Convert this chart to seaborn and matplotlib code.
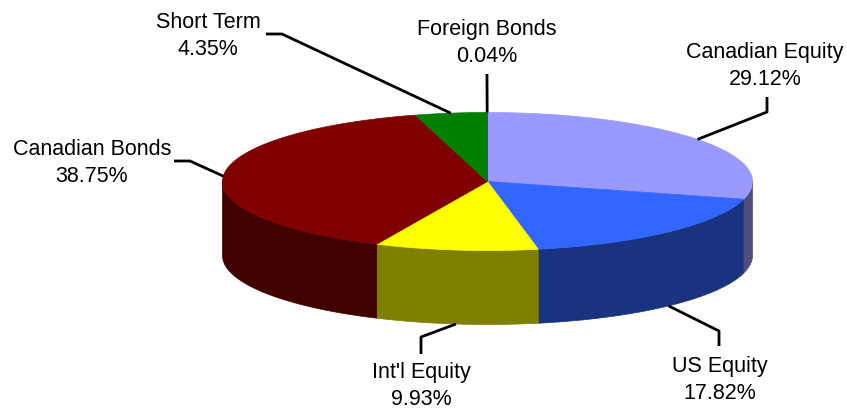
import numpy as np
import seaborn as sns
from matplotlib import pyplot as plt
from matplotlib.patches import Polygon

# data
categories = ['Canadian Equity', 'US Equity', "Int'l Equity", 'Canadian Bonds', 'Short Term', 'Foreign Bonds']
shares = [29.12, 17.82, 9.93, 38.75, 4.35, 0.04]
top_colors = ['#9999FF', '#3366FF', '#FFFF00', '#800000', '#008000', '#008000']
side_colors = ['#4D4D80', '#1A3380', '#808000', '#400000', '#004000', '#004000']

# label placement (text centre, elbow of leader line)
label_pos = [(765, 66), (720, 380), (421, 386), (92, 163), (208, 36), (487, 43)]
elbows = [(767, 113), (719, 332), (421, 338), (190, 162), (282, 35), (487, 80)]
line_ends = [(767, 98), (719, 347), (421, 355), (174, 162), (266, 35), (487, 75)]

sns.set_theme(style='white')
plt.rcParams['font.family'] = ['Liberation Sans', 'DejaVu Sans']

# pie geometry in pixel-like units
cx, cy = 487.5, 182.5
a, b = 265, 69
depth = 74


def rim(theta, drop=0):
    # theta in degrees, clockwise from the top
    t = np.radians(theta)
    return cx + a * np.sin(t), cy - b * np.cos(t) + drop


fig = plt.figure(figsize=(8.47, 4.10), dpi=100)
ax = fig.add_axes([0, 0, 1, 1])
ax.set_xlim(0, 847)
ax.set_ylim(410, 0)
ax.axis('off')

bounds = np.concatenate([[0], np.cumsum(shares)]) / sum(shares) * 360

# side walls (front half only)
for i in range(len(shares)):
    s0 = max(bounds[i], 90)
    s1 = min(bounds[i + 1], 270)
    if s1 <= s0:
        continue
    th = np.linspace(s0, s1, 120)
    tx, ty = rim(th)
    bx, by = rim(th[::-1], depth)
    pts = np.column_stack([np.concatenate([tx, bx]), np.concatenate([ty, by])])
    ax.add_patch(Polygon(pts, closed=True, facecolor=side_colors[i],
                         edgecolor=side_colors[i], linewidth=0.5))

# top faces
for i in range(len(shares)):
    th = np.linspace(bounds[i], bounds[i + 1], 200)
    tx, ty = rim(th)
    pts = np.column_stack([np.concatenate([[cx], tx]), np.concatenate([[cy], ty])])
    ax.add_patch(Polygon(pts, closed=True, facecolor=top_colors[i],
                         edgecolor=top_colors[i], linewidth=0.5))

# labels and leader lines
for i, name in enumerate(categories):
    mid = (bounds[i] + bounds[i + 1]) / 2
    drop = depth if np.cos(np.radians(mid)) < 0 else 0
    ax_, ay_ = rim(mid, drop)
    ex, ey = elbows[i]
    lx, ly = line_ends[i]
    ax.plot([ax_, ex, lx], [ay_, ey, ly], color='black', linewidth=2,
            solid_capstyle='butt')
    tx, ty = label_pos[i]
    ax.text(tx, ty, f'{name}\n{shares[i]:.2f}%', ha='center', va='center',
            fontsize=15.5, color='black', linespacing=1.36)

fig.savefig('out.png', dpi=100)
